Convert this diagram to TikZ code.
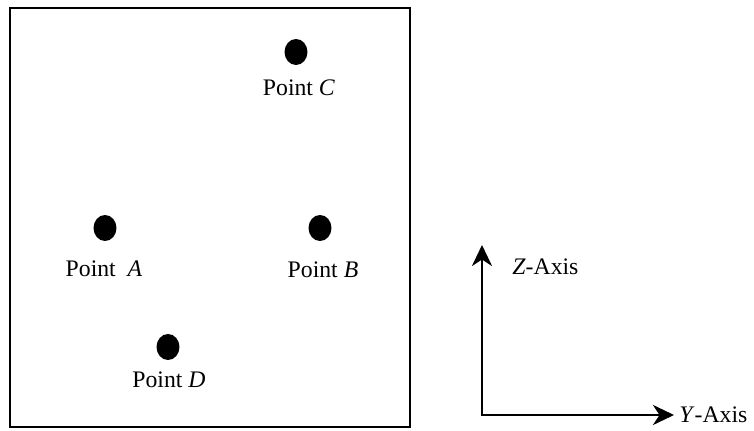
\documentclass[tikz,border=0pt]{standalone}
\usepackage{fontspec}
\setmainfont{Liberation Serif}
\usetikzlibrary{positioning,shapes.geometric,arrows.meta}

\tikzset{
  dot/.style={ellipse, fill=black, inner sep=0pt, minimum width=0.46cm, minimum height=0.52cm},
  ptlabel/.style={inner sep=0pt, anchor=base, font=\fontsize{13.5}{16}\selectfont},
  axlabel/.style={inner sep=0pt, font=\fontsize{13.5}{16}\selectfont},
  axis/.style={line width=1.6pt, -{Stealth[length=0.42cm, width=0.4cm, inset=0.13cm]}}
}

\begin{document}
\begin{tikzpicture}[x=0.02cm, y=-0.02cm]
    \useasboundingbox (0,0) rectangle (754,431);
    % frame
    \draw[line width=1.5pt] (10,8) rectangle (410,427);

    % points
    \node[dot] (C) at (296,52) {};
    \node[dot] (A) at (105,228) {};
    \node[dot] (B) at (320,228) {};
    \node[dot] (D) at (168,347) {};

    \node[ptlabel] (labC) at (299,96) {Point \textit{C}};
    \node[ptlabel] (labA) at (104,277) {Point\ \ \textit{A}};
    \node[ptlabel] (labB) at (323,278) {Point \textit{B}};
    \node[ptlabel] (labD) at (169,388) {Point \textit{D}};

    % axes
    \coordinate (O) at (482,415);
    \coordinate (Ztip) at (482,245);
    \coordinate (Ytip) at (674,415);
    \draw[axis] ([yshift=0.8pt]O) -- (Ztip);
    \draw[axis] ([xshift=-0.8pt]O) -- (Ytip);
    \node[axlabel, anchor=base west] (labZ) at (512,275) {\textit{Z}-Axis};
    \node[axlabel, anchor=west, right=0.1cm of Ytip] (labY) {\textit{Y}-Axis};
\end{tikzpicture}
\end{document}
